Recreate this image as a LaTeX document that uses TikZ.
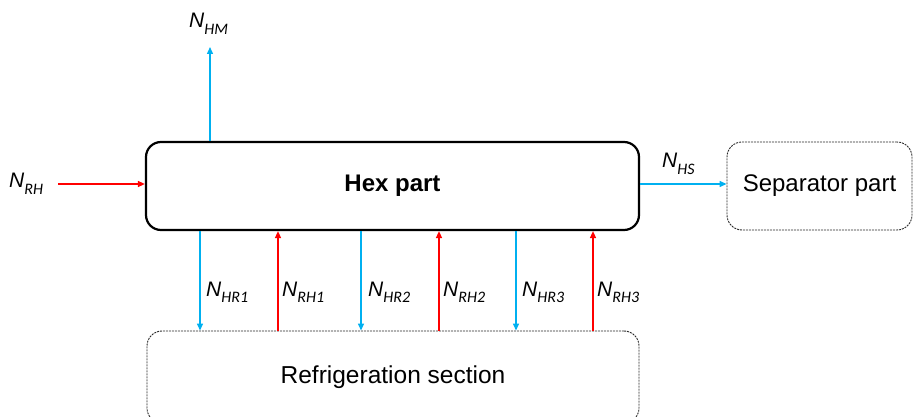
\documentclass[tikz,border=0pt]{standalone}
\usepackage{fontspec}
\setmainfont{Liberation Sans}
\newfontfamily\subfam{Carlito}
\usetikzlibrary{arrows.meta}
\definecolor{coldblue}{RGB}{0,176,240}
\definecolor{hotred}{RGB}{255,0,0}
\definecolor{dashgray}{RGB}{40,40,40}
% flow label: italic N with a lowered subscript
\newcommand\flowlab[1]{{\fontsize{21}{21}\selectfont\itshape N}\raisebox{-6.5pt}{\subfam\itshape\fontsize{16}{16}\selectfont #1}}
\tikzset{
  mainbox/.style={draw=black, line width=2.2pt, rounded corners=15pt, inner sep=0pt},
  subbox/.style={draw=dashgray, line width=0.9pt, dash pattern=on 2pt off 1pt, rounded corners=15pt, inner sep=0pt},
  flow/.style={line width=1.4pt, -{Triangle[length=7pt,width=6pt]}},
  cold/.style={flow, draw=coldblue},
  hot/.style={flow, draw=hotred},
  lab/.style={anchor=base west, inner sep=0pt},
}
\begin{document}
\begin{tikzpicture}[x=1pt, y=-1pt]
\useasboundingbox (0,0) rectangle (914,417);
\clip (0,0) rectangle (914,417);

% process blocks
\node[mainbox, minimum width=493pt, minimum height=88pt] (hex) at (392.5,186)
  {\fontsize{24}{24}\selectfont\bfseries Hex part};
\node[subbox, minimum width=185pt, minimum height=88pt] (sep) at (819.5,186)
  {\fontsize{24}{24}\selectfont Separator part};
\node[subbox, minimum width=492pt, minimum height=92pt] (ref) at (393,377)
  {\fontsize{24.5}{24.5}\selectfont Refrigeration section};

% free ends
\coordinate (feed) at (58,184);
\coordinate (top) at (210,47);

% hot feed and main outlets
\draw[hot] (feed) -- (feed -| hex.west);
\draw[cold] (210,0 |- hex.north) -- (top);
\draw[cold] (hex.east |- feed) -- (sep.west |- feed);

% exchange streams with the refrigeration section
\draw[cold] (200,0 |- hex.south) -- (200,0 |- ref.north);
\draw[hot]  (278,0 |- ref.north) -- (278,0 |- hex.south);
\draw[cold] (361,0 |- hex.south) -- (361,0 |- ref.north);
\draw[hot]  (439,0 |- ref.north) -- (439,0 |- hex.south);
\draw[cold] (516,0 |- hex.south) -- (516,0 |- ref.north);
\draw[hot]  (593,0 |- ref.north) -- (593,0 |- hex.south);

% labels
\node[lab] (lrh) at (9,188) {\flowlab{RH}};
\node[lab] (lhm) at (189,28) {\flowlab{HM}};
\node[lab] (lhs) at (662,168) {\flowlab{HS}};
\node[lab] (lhr1) at (206,296) {\flowlab{HR1}};
\node[lab] (lrh1) at (282,296) {\flowlab{RH1}};
\node[lab] (lhr2) at (368,296) {\flowlab{HR2}};
\node[lab] (lrh2) at (443,296) {\flowlab{RH2}};
\node[lab] (lhr3) at (522,296) {\flowlab{HR3}};
\node[lab] (lrh3) at (597,296) {\flowlab{RH3}};
\end{tikzpicture}
\end{document}
